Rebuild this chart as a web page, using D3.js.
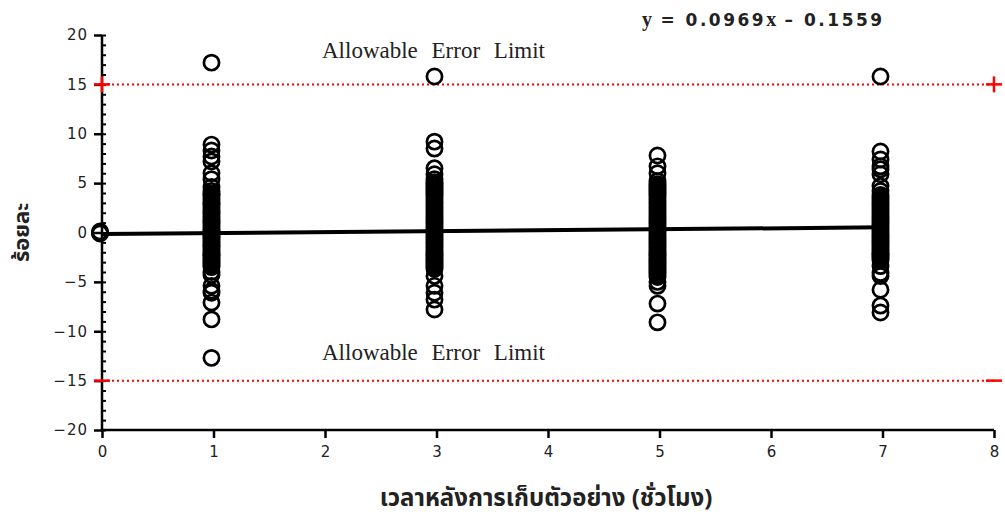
<!DOCTYPE html>
<html>
<head>
<meta charset="utf-8">
<script src="https://cdn.jsdelivr.net/npm/d3@7"></script>
<style>
  html, body { margin: 0; padding: 0; background: #fff; }
  svg { display: block; }
</style>
</head>
<body>
<svg id="chart" width="1005" height="525"></svg>
<script>
// Percent deviation of each sample, grouped by hours after collection
const hours = [0, 1, 3, 5, 7];
const dev0 = [0.0, 0.1, -0.1];
const dev1 = [17.2, 8.9, 8.3, 7.7, 7.2, 6.0, 5.4, 4.6, 4.2,
  3.9, 3.8, 3.6, 3.4, 3.2, 3.0, 2.9, 2.7, 2.5, 2.3, 2.1, 2.0, 1.8, 1.6, 1.4, 1.2, 1.1, 0.9, 0.7,
  0.5, 0.3, 0.2, 0.0, -0.2, -0.4, -0.5, -0.7, -0.9, -1.1, -1.3, -1.4, -1.6, -1.8, -2.0, -2.2,
  -2.3, -2.5, -2.7, -2.9, -3.1, -3.3, -3.5,
  -4.0, -4.3, -5.4, -5.9, -6.1, -7.1, -8.8, -12.7];
const dev3 = [15.8, 9.2, 8.5, 6.5, 5.9, 5.4,
  5.1, 4.9, 4.7, 4.5, 4.3, 4.1, 3.9, 3.7, 3.5, 3.3, 3.1, 2.9, 2.7, 2.5, 2.3, 2.1, 1.9, 1.7,
  1.5, 1.3, 1.1, 0.9, 0.7, 0.5, 0.3, 0.1, -0.1, -0.3, -0.5, -0.7, -0.9, -1.1, -1.3, -1.5,
  -1.7, -1.9, -2.1, -2.3, -2.5, -2.7, -2.9, -3.1, -3.3, -3.5, -3.7,
  -4.4, -5.4, -6.1, -6.8, -7.8];
const dev5 = [7.8, 6.7, 6.0, 5.2,
  4.9, 4.7, 4.5, 4.3, 4.1, 3.9, 3.7, 3.5, 3.3, 3.1, 2.9, 2.7, 2.5, 2.3, 2.1, 1.9, 1.7, 1.5,
  1.3, 1.1, 0.9, 0.7, 0.5, 0.3, 0.1, -0.1, -0.3, -0.5, -0.7, -0.9, -1.1, -1.3, -1.5, -1.7,
  -1.9, -2.1, -2.3, -2.5, -2.7, -2.9, -3.1, -3.3, -3.5, -3.7, -3.9, -4.1, -4.3, -4.5,
  -5.0, -5.4, -7.2, -9.1];
const dev7 = [15.8, 8.2, 7.4, 6.7, 6.4, 5.9, 4.7, 4.2,
  3.8, 3.6, 3.4, 3.2, 3.0, 2.8, 2.6, 2.4, 2.2, 2.0, 1.8, 1.6, 1.4, 1.2, 1.0, 0.8, 0.6, 0.4,
  0.2, 0.0, -0.2, -0.4, -0.6, -0.8, -1.0, -1.2, -1.4, -1.6, -1.8, -2.0, -2.2, -2.4, -2.6, -2.8,
  -3.4, -4.1, -4.4, -5.8, -7.4, -8.1];
const devByHour = [dev0, dev1, dev3, dev5, dev7];

// Fitted trend line y = slope * x + intercept
const slope = 0.0969;
const intercept = -0.1559;
const trendRange = [0, 7];

// Allowable error limits (percent)
const limits = [15, -15];

const xTicks = [0, 1, 2, 3, 4, 5, 6, 7, 8];
const yTicks = [-20, -15, -10, -5, 0, 5, 10, 15, 20];
const yMinorTicks = d3.range(-20, 21, 1);

const svg = d3.select("#chart");
const x = d3.scaleLinear().domain([0, 8]).range([102, 994]);
const y = d3.scaleLinear().domain([-20, 20]).range([430, 35]);

const tickFont = "'DejaVu Sans', sans-serif";
const thaiFont = "'Noto Sans Thai', 'Loma', 'Noto Sans', sans-serif";

// Y axis: minor ticks to the right, major ticks to the left
const yAxisG = svg.append("g").attr("transform", `translate(${x(0)},0)`);
yAxisG.call(d3.axisRight(y).tickValues(yMinorTicks).tickSize(4).tickFormat(""))
  .call(g => g.select(".domain").remove())
  .selectAll("line").attr("stroke", "#000").attr("stroke-width", 2);
const yMajor = svg.append("g").attr("transform", `translate(${x(0)},0)`);
yMajor.call(d3.axisLeft(y).tickValues(yTicks).tickSize(8).tickPadding(6)
    .tickFormat(d => d < 0 ? "\u2212" + Math.abs(d) : d))
  .call(g => g.select(".domain").attr("stroke", "#000").attr("stroke-width", 2.5).attr("d", `M0,${y(-20)}V${y(20)}`));
yMajor.selectAll(".tick line").attr("stroke", "#000").attr("stroke-width", 2.5);
yMajor.selectAll(".tick text").attr("font-family", tickFont).attr("font-size", 15)
  .attr("letter-spacing", 1).attr("fill", "#222");

// X axis
const xAxisG = svg.append("g").attr("transform", `translate(0,${y(-20)})`);
xAxisG.call(d3.axisBottom(x).tickValues(xTicks).tickSize(8).tickPadding(8).tickFormat(d3.format("d")))
  .call(g => g.select(".domain").attr("stroke", "#000").attr("stroke-width", 2.5).attr("d", `M${x(0)},0H${x(8)}`));
xAxisG.selectAll(".tick line").attr("stroke", "#000").attr("stroke-width", 2.5);
xAxisG.selectAll(".tick text").attr("font-family", tickFont).attr("font-size", 15).attr("fill", "#222");

// Allowable error limit lines with end markers
limits.forEach(v => {
  svg.append("line")
    .attr("x1", x(0)).attr("x2", x(8)).attr("y1", y(v)).attr("y2", y(v))
    .attr("stroke", "#f00").attr("stroke-width", 2).attr("stroke-dasharray", "2,3");
  [0, 8].forEach(h => {
    svg.append("line")
      .attr("x1", x(h) - 8).attr("x2", x(h) + 8).attr("y1", y(v)).attr("y2", y(v))
      .attr("stroke", "#f00").attr("stroke-width", 2.5);
    if (v > 0) {
      svg.append("line")
        .attr("x1", x(h)).attr("x2", x(h)).attr("y1", y(v) - 8).attr("y2", y(v) + 8)
        .attr("stroke", "#f00").attr("stroke-width", 2.5);
    }
  });
});

svg.selectAll(".limitLabel").data(limits).enter().append("text")
  .attr("class", "limitLabel")
  .attr("x", 322).attr("y", v => y(v) + (v > 0 ? -26 : -21))
  .attr("font-family", "'Liberation Serif', 'Times New Roman', serif")
  .attr("font-size", 23).attr("word-spacing", 8).attr("fill", "#222")
  .text("Allowable Error Limit");

// Trend line
svg.append("line")
  .attr("x1", x(trendRange[0])).attr("y1", y(slope * trendRange[0] + intercept))
  .attr("x2", x(trendRange[1])).attr("y2", y(slope * trendRange[1] + intercept))
  .attr("stroke", "#000").attr("stroke-width", 4);

// Sample points
const pts = [];
hours.forEach((h, i) => devByHour[i].forEach(v => pts.push({ h, v })));
svg.append("g").selectAll("circle").data(pts).enter().append("circle")
  .attr("cx", d => x(d.h) - 2).attr("cy", d => y(d.v)).attr("r", 7.6)
  .attr("fill", "none").attr("stroke", "#000").attr("stroke-width", 2.7);

// Equation of the trend line
const eq = svg.append("text").attr("x", 642).attr("y", 26)
  .attr("font-size", 17).attr("font-weight", "bold").attr("fill", "#222");
eq.append("tspan").attr("font-family", "'Liberation Serif', serif").attr("font-size", 20).text("y");
eq.append("tspan").attr("font-family", tickFont).attr("letter-spacing", 2.5)
  .text(` = ${slope.toFixed(4)}`);
eq.append("tspan").attr("font-family", "'Liberation Serif', serif").attr("font-size", 20).text("x");
eq.append("tspan").attr("font-family", tickFont).attr("letter-spacing", 2.5)
  .text(` \u2013 ${Math.abs(intercept).toFixed(4)}`);

// Axis titles
svg.append("text")
  .attr("transform", `translate(29,${y(0)}) rotate(-90)`)
  .attr("text-anchor", "middle")
  .attr("font-family", thaiFont)
  .attr("font-size", 22).attr("font-weight", "bold").attr("fill", "#222")
  .text("ร้อยละ");

svg.append("text")
  .attr("x", 546).attr("y", 506).attr("text-anchor", "middle")
  .attr("font-family", thaiFont)
  .attr("font-size", 24).attr("font-weight", "bold").attr("fill", "#222")
  .text("เวลาหลังการเก็บตัวอย่าง (ชั่วโมง)");
</script>
</body>
</html>
